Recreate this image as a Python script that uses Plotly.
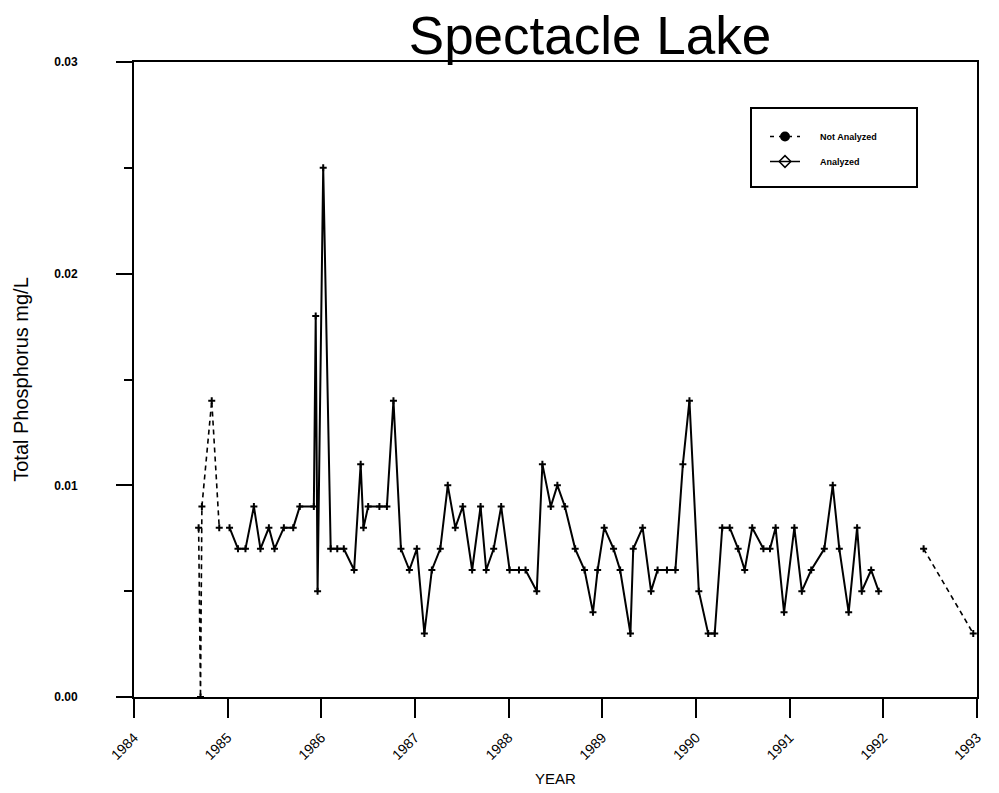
import plotly.graph_objects as go

# ---- Data ----
analyzed_years = [
    1985.02, 1985.11, 1985.19, 1985.28, 1985.35, 1985.44, 1985.50, 1985.60, 1985.70, 1985.77,
    1985.92, 1985.94, 1985.96, 1986.02, 1986.10, 1986.17, 1986.24, 1986.35, 1986.42, 1986.45,
    1986.50, 1986.62, 1986.70, 1986.77, 1986.85, 1986.94, 1987.02, 1987.10, 1987.18, 1987.27,
    1987.35, 1987.43, 1987.51, 1987.61, 1987.70, 1987.76, 1987.84, 1987.92, 1988.01, 1988.11,
    1988.18, 1988.30, 1988.36, 1988.45, 1988.52, 1988.60, 1988.71, 1988.81, 1988.90, 1988.95,
    1989.02, 1989.12, 1989.19, 1989.30, 1989.33, 1989.43, 1989.52, 1989.59, 1989.69, 1989.78,
    1989.86, 1989.93, 1990.03, 1990.13, 1990.20, 1990.28, 1990.36, 1990.45, 1990.52, 1990.60,
    1990.72, 1990.79, 1990.85, 1990.94, 1991.05, 1991.13, 1991.23, 1991.37, 1991.46, 1991.53,
    1991.63, 1991.72, 1991.77, 1991.87, 1991.95,
]
analyzed_tp = [
    0.008, 0.007, 0.007, 0.009, 0.007, 0.008, 0.007, 0.008, 0.008, 0.009,
    0.009, 0.018, 0.005, 0.025, 0.007, 0.007, 0.007, 0.006, 0.011, 0.008,
    0.009, 0.009, 0.009, 0.014, 0.007, 0.006, 0.007, 0.003, 0.006, 0.007,
    0.010, 0.008, 0.009, 0.006, 0.009, 0.006, 0.007, 0.009, 0.006, 0.006,
    0.006, 0.005, 0.011, 0.009, 0.010, 0.009, 0.007, 0.006, 0.004, 0.006,
    0.008, 0.007, 0.006, 0.003, 0.007, 0.008, 0.005, 0.006, 0.006, 0.006,
    0.011, 0.014, 0.005, 0.003, 0.003, 0.008, 0.008, 0.007, 0.006, 0.008,
    0.007, 0.007, 0.008, 0.004, 0.008, 0.005, 0.006, 0.007, 0.010, 0.007,
    0.004, 0.008, 0.005, 0.006, 0.005,
]

not_analyzed_early_years = [1984.69, 1984.71, 1984.725, 1984.83, 1984.91]
not_analyzed_early_tp = [0.008, 0.0, 0.009, 0.014, 0.008]

not_analyzed_late_years = [1992.43, 1992.96]
not_analyzed_late_tp = [0.007, 0.003]

year_ticks = list(range(1984, 1994))
year_labels = [str(y) for y in year_ticks]
tp_ticks = [0.0, 0.01, 0.02, 0.03]
tp_labels = ["0.00", "0.01", "0.02", "0.03"]

FONT = "Liberation Sans, Arial, sans-serif"

fig = go.Figure()

# Not analyzed (dashed)
for xs, ys in [(not_analyzed_early_years, not_analyzed_early_tp),
               (not_analyzed_late_years, not_analyzed_late_tp)]:
    fig.add_trace(go.Scatter(
        x=xs, y=ys, mode="lines+markers",
        line=dict(color="black", width=1.6, dash="5px,4px"),
        marker=dict(symbol="cross-thin", size=5, line=dict(color="black", width=2)),
        showlegend=False, hoverinfo="skip"))

# Analyzed (solid)
fig.add_trace(go.Scatter(
    x=analyzed_years, y=analyzed_tp, mode="lines+markers",
    line=dict(color="black", width=2),
    marker=dict(symbol="cross-thin", size=5, line=dict(color="black", width=2)),
    showlegend=False, hoverinfo="skip"))

# Legend entries
fig.add_trace(go.Scatter(
    x=[None], y=[None], mode="lines+markers", name="&nbsp;&nbsp;&nbsp;&nbsp;&nbsp;&nbsp;<b>Not Analyzed</b>",
    legendgroup="na",
    line=dict(color="black", width=1.5, dash="4px,5px"),
    marker=dict(symbol="circle", size=10, color="black")))
fig.add_trace(go.Scatter(
    x=[None], y=[None], mode="lines+markers", name="&nbsp;&nbsp;&nbsp;&nbsp;&nbsp;&nbsp;<b>Analyzed</b>",
    legendgroup="a",
    line=dict(color="black", width=1.5),
    marker=dict(symbol="diamond-open", size=9, color="black", line=dict(width=1.5))))

L, R, T, B = 134, 22, 62, 96
W, H = 999, 793
pw, ph = W - L - R, H - T - B

def px2paper_x(px):
    return (px - L) / pw

def px2paper_y(py):
    return (H - B - py) / ph

fig.add_shape(type="rect", xref="paper", yref="paper",
              x0=px2paper_x(751), x1=px2paper_x(917),
              y0=px2paper_y(187), y1=px2paper_y(108),
              line=dict(color="black", width=2), fillcolor="rgba(0,0,0,0)")

fig.update_layout(
    width=W, height=H,
    margin=dict(l=L, r=R, t=T, b=B),
    paper_bgcolor="white", plot_bgcolor="white",
    font=dict(family=FONT, color="black"),
    title=dict(text="Spectacle Lake", x=590 / W, xanchor="center",
               y=1 - 35 / H, yanchor="middle",
               font=dict(size=53, family=FONT, color="black")),
    legend=dict(x=px2paper_x(765), y=px2paper_y(122), xanchor="left", yanchor="top",
                bgcolor="rgba(0,0,0,0)", borderwidth=0,
                font=dict(size=9, family=FONT, color="black"),
                tracegroupgap=6, itemwidth=30),
    xaxis=dict(range=[1984, 1993], tickmode="array", tickvals=year_ticks, ticktext=year_labels,
               tickangle=-45, ticks="outside", ticklen=19, tickwidth=1.5, tickcolor="black",
               showline=True, linecolor="black", linewidth=2, mirror=True,
               showgrid=False, zeroline=False, ticklabelstandoff=6, automargin=False,
               tickfont=dict(size=14, family=FONT),
               title=dict(text="YEAR", font=dict(size=15, family=FONT), standoff=12)),
    yaxis=dict(range=[0, 0.03], tickmode="array", tickvals=tp_ticks, ticktext=["<b>%s</b>" % t for t in tp_labels],
               ticks="outside", ticklen=16, tickwidth=1.5, tickcolor="black",
               minor=dict(tickvals=[0.005, 0.015, 0.025], ticks="outside", ticklen=8,
                          tickwidth=1.5, tickcolor="black", showgrid=False),
               showline=True, linecolor="black", linewidth=2, mirror=True,
               showgrid=False, zeroline=False, ticklabelstandoff=36, automargin=False,
               tickfont=dict(size=12, family=FONT),
               title=dict(text="Total Phosphorus mg/L", font=dict(size=20, family=FONT), standoff=20)),
)

fig.write_html("out.html")
